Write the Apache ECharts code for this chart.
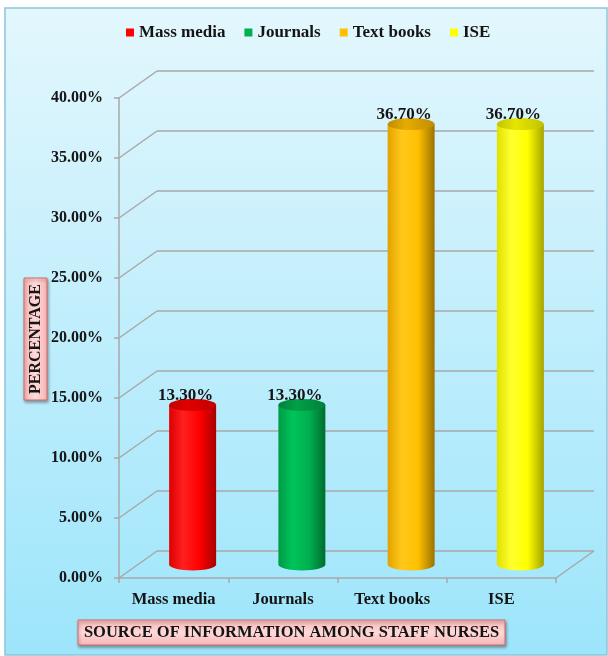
<!DOCTYPE html>
<html>
<head>
<meta charset="utf-8">
<script src="https://cdn.jsdelivr.net/npm/echarts@6/dist/echarts.min.js"></script>
<style>
  html, body { margin: 0; padding: 0; background: #ffffff; }
  #chart { width: 608px; height: 656px; }
</style>
</head>
<body>
<div id="chart"></div>
<script>
// Source of information among staff nurses (percent)
const categories = ['Mass media', 'Journals', 'Text books', 'ISE'];
const percentages = [13.3, 13.3, 36.7, 36.7];
const yTickValues = [0, 5, 10, 15, 20, 25, 30, 35, 40];

// Cylinder shading: [left edge, highlight, base, right edge, top light, top dark]
const palettes = [
  ['#dc0000', '#ff2020', '#ff0000', '#a80000', '#e00000', '#c00000'],
  ['#009a45', '#00c45a', '#00b050', '#006e2e', '#00a048', '#00803a'],
  ['#e2a200', '#ffc81a', '#ffc000', '#9c7200', '#e6ac00', '#c08c00'],
  ['#e0e000', '#ffff30', '#ffff00', '#a4a400', '#e6e600', '#c2c200']
];

const FONT = '"Liberation Serif", "Times New Roman", serif';
const DX = 38, DY = -27;          // depth offset of the back wall
const GRID_LINE = '#a8a8a8';
const INK = '#141414';

const chart = echarts.init(document.getElementById('chart'));

// Back wall gridlines and the diagonal side-wall lines
function renderWalls(params, api) {
  const cs = params.coordSys;
  const v = api.value(1);
  const y = api.coord([0, v])[1];
  const x0 = cs.x, x1 = cs.x + cs.width;
  const st = { stroke: GRID_LINE, lineWidth: 1.5 };
  const children = [
    { type: 'line', shape: { x1: x0, y1: y, x2: x0 + DX, y2: y + DY }, style: st },
    { type: 'line', shape: { x1: x0 + DX, y1: y + DY, x2: x1 + DX, y2: y + DY }, style: st }
  ];
  if (v === 0) {
    children.push({ type: 'line', shape: { x1: x1, y1: y, x2: x1 + DX, y2: y + DY }, style: st });
  }
  return { type: 'group', children: children };
}

function cylinderRenderer(i) {
  const pal = palettes[i];
  return function (params, api) {
    const idx = api.value(0);
    const v = api.value(1);
    const base = api.coord([idx, 0]);
    const top = api.coord([idx, v]);
    const w = api.size([1, 0])[0] * 0.43;
    const rx = w / 2, ry = 6;
    const cx = base[0] + DX / 2;
    const by = base[1] + DY / 2;
    const ty = top[1] + DY / 2;
    const L = cx - rx, R = cx + rx;
    const body = 'M' + L + ' ' + ty + ' L' + L + ' ' + by +
      ' A' + rx + ' ' + ry + ' 0 0 0 ' + R + ' ' + by + ' L' + R + ' ' + ty + ' Z';
    const cap = 'M' + L + ' ' + ty + ' A' + rx + ' ' + ry + ' 0 1 0 ' + R + ' ' + ty +
      ' A' + rx + ' ' + ry + ' 0 1 0 ' + L + ' ' + ty + ' Z';
    return {
      type: 'group',
      children: [
        {
          type: 'path',
          shape: { pathData: body },
          style: {
            fill: new echarts.graphic.LinearGradient(0, 0, 1, 0, [
              { offset: 0, color: pal[0] },
              { offset: 0.3, color: pal[1] },
              { offset: 0.65, color: pal[2] },
              { offset: 1, color: pal[3] }
            ])
          }
        },
        {
          type: 'path',
          shape: { pathData: cap },
          style: {
            fill: new echarts.graphic.LinearGradient(0, 0, 1, 0, [
              { offset: 0, color: pal[5] },
              { offset: 0.4, color: pal[4] },
              { offset: 1, color: pal[5] }
            ])
          }
        },
        {
          type: 'text',
          x: cx - 7,
          y: ty - 1,
          style: {
            text: v.toFixed(2) + '%',
            align: 'center',
            verticalAlign: 'bottom',
            font: 'bold 17px ' + FONT,
            fill: INK
          }
        }
      ]
    };
  };
}

const barSeries = categories.map(function (name, i) {
  return {
    name: name,
    type: 'custom',
    z: 5,
    itemStyle: { color: palettes[i][2] },
    renderItem: cylinderRenderer(i),
    encode: { x: 0, y: 1 },
    data: [[i, percentages[i]]]
  };
});

const pinkFill = function (x1, y1, x2, y2) {
  return new echarts.graphic.LinearGradient(x1, y1, x2, y2, [
    { offset: 0, color: '#f7b4b4' },
    { offset: 0.5, color: '#ffd9d9' },
    { offset: 1, color: '#f7b4b4' }
  ]);
};
const boxStyle = {
  stroke: '#d86a6a',
  lineWidth: 1,
  shadowBlur: 3,
  shadowOffsetX: 1,
  shadowOffsetY: 2,
  shadowColor: 'rgba(0,0,0,0.35)'
};

const option = {
  animation: false,
  graphic: [
    {
      type: 'rect',
      z: -10,
      shape: { x: 5, y: 8, width: 602, height: 647 },
      style: {
        fill: new echarts.graphic.LinearGradient(0, 0, 0, 1, [
          { offset: 0, color: '#e3f7fd' },
          { offset: 1, color: '#9de5fb' }
        ]),
        stroke: '#8fc4da',
        lineWidth: 1.5
      }
    },
    {
      type: 'group',
      z: 10,
      children: [
        {
          type: 'rect',
          shape: { x: 24, y: 278, width: 23, height: 122 },
          style: Object.assign({ fill: pinkFill(0, 0, 1, 0) }, boxStyle)
        },
        {
          type: 'text',
          x: 36,
          y: 339,
          rotation: Math.PI / 2,
          style: {
            text: 'PERCENTAGE',
            align: 'center',
            verticalAlign: 'middle',
            font: 'bold 16px ' + FONT,
            fill: INK
          }
        }
      ]
    },
    {
      type: 'group',
      z: 10,
      children: [
        {
          type: 'rect',
          shape: { x: 78, y: 620, width: 427, height: 25 },
          style: Object.assign({ fill: pinkFill(0, 0, 0, 1) }, boxStyle)
        },
        {
          type: 'text',
          x: 291.5,
          y: 633,
          style: {
            text: 'SOURCE OF INFORMATION AMONG STAFF NURSES',
            align: 'center',
            verticalAlign: 'middle',
            font: 'bold 16.5px ' + FONT,
            fill: INK
          }
        }
      ]
    }
  ],
  legend: {
    data: categories,
    top: 19,
    left: 121,
    icon: 'rect',
    itemWidth: 8,
    itemHeight: 8,
    itemGap: 19,
    textStyle: { fontFamily: FONT, fontWeight: 'bold', fontSize: 17, color: INK }
  },
  grid: { left: 119, right: 52, top: 98, bottom: 78, containLabel: false },
  xAxis: {
    type: 'category',
    data: categories,
    axisLine: { lineStyle: { color: GRID_LINE, width: 1.5 } },
    axisTick: { show: true, length: 5, lineStyle: { color: GRID_LINE, width: 1.5 } },
    axisLabel: {
      margin: 13,
      fontFamily: FONT, fontWeight: 'bold', fontSize: 16.5, color: INK
    },
    splitLine: { show: false }
  },
  yAxis: {
    type: 'value',
    min: 0,
    max: 40,
    interval: 5,
    axisLine: { show: true, lineStyle: { color: GRID_LINE, width: 1.5 } },
    axisTick: { show: true, length: 5, lineStyle: { color: GRID_LINE, width: 1.5 } },
    axisLabel: {
      margin: 16,
      formatter: function (v) { return v.toFixed(2) + '%'; },
      fontFamily: FONT, fontWeight: 'bold', fontSize: 16, color: INK
    },
    splitLine: { show: false }
  },
  series: [
    {
      name: 'walls',
      type: 'custom',
      z: 1,
      silent: true,
      renderItem: renderWalls,
      encode: { x: 0, y: 1 },
      data: yTickValues.map(function (v) { return [0, v]; })
    }
  ].concat(barSeries)
};

chart.setOption(option);
</script>
</body>
</html>
